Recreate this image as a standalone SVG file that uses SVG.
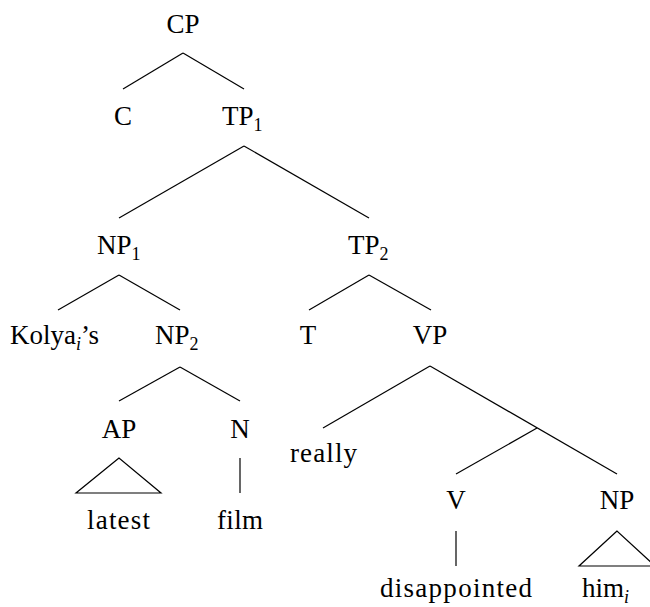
<svg xmlns="http://www.w3.org/2000/svg" width="650" height="607" viewBox="0 0 650 607">
<style>
text{font-family:"Liberation Serif","Times New Roman",serif;font-size:27px;fill:#000}
.m{text-anchor:middle}
.sub{font-size:18px}
.it{font-style:italic}
#edges line,#edges polygon{stroke:#000;stroke-width:1.2;fill:none}
</style>
<rect width="650" height="607" fill="#fff"/>
<g id="edges">
<line x1="183" y1="53" x2="123" y2="89"/>
<line x1="183" y1="53" x2="244" y2="89"/>
<line x1="244" y1="146" x2="119" y2="218"/>
<line x1="244" y1="146" x2="369" y2="218"/>
<line x1="119" y1="275" x2="58" y2="310"/>
<line x1="119" y1="275" x2="180" y2="310"/>
<line x1="369" y1="275" x2="309" y2="310"/>
<line x1="369" y1="275" x2="431" y2="310"/>
<line x1="180" y1="367" x2="119" y2="401"/>
<line x1="180" y1="367" x2="240" y2="401"/>
<line x1="430" y1="366" x2="323" y2="428"/>
<line x1="430" y1="366" x2="617" y2="474"/>
<line x1="537" y1="428" x2="456" y2="474"/>
<polygon points="119,458 76,493 161,493"/>
<line x1="240" y1="458" x2="240" y2="493"/>
<line x1="456" y1="531" x2="456" y2="566"/>
<polygon points="617,531 579,566 655,566"/>
</g>
<g id="CP"><text class="m" x="183" y="33">CP</text></g>
<g id="C"><text class="m" x="123" y="125">C</text></g>
<g id="TP1"><text x="222" y="125">TP<tspan class="sub" dy="6">1</tspan></text></g>
<g id="NP1"><text x="97" y="254">NP<tspan class="sub" dy="6">1</tspan></text></g>
<g id="TP2"><text x="348" y="254">TP<tspan class="sub" dy="6">2</tspan></text></g>
<g id="Kolya"><text x="10" y="344">Kolya<tspan class="sub it" dy="6">i</tspan><tspan dy="-6">’s</tspan></text></g>
<g id="NP2"><text x="155" y="344">NP<tspan class="sub" dy="6">2</tspan></text></g>
<g id="T"><text class="m" x="308" y="344">T</text></g>
<g id="VP"><text class="m" x="430" y="344">VP</text></g>
<g id="AP"><text class="m" x="119" y="438">AP</text></g>
<g id="N"><text class="m" x="240" y="438">N</text></g>
<g id="really"><text x="290" y="462" textLength="67" lengthAdjust="spacing">really</text></g>
<g id="V"><text class="m" x="456" y="509">V</text></g>
<g id="NP"><text class="m" x="617" y="509">NP</text></g>
<g id="latest"><text x="87" y="529" textLength="63" lengthAdjust="spacing">latest</text></g>
<g id="film"><text x="217" y="529" textLength="46" lengthAdjust="spacing">film</text></g>
<g id="disappointed"><text x="380" y="597" textLength="152" lengthAdjust="spacing">disappointed</text></g>
<g id="him"><text x="582" y="597">him<tspan class="sub it" dy="6">i</tspan></text></g>
</svg>
